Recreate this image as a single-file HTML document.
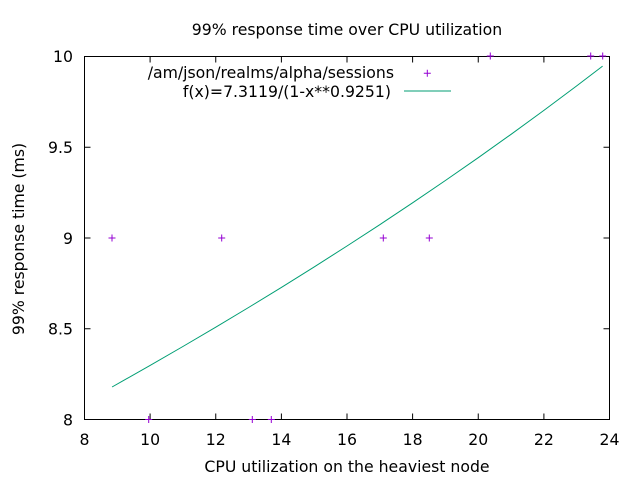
<!DOCTYPE html>
<html><head><meta charset="utf-8"><style>
html,body{margin:0;padding:0;background:#fff;}
svg{display:block;}
text{font-family:"DejaVu Sans","Liberation Sans",sans-serif;font-size:15.7px;fill:#000;}
</style></head><body>
<svg width="640" height="480" viewBox="0 0 640 480" xmlns="http://www.w3.org/2000/svg">
<rect width="640" height="480" fill="#fff"/>
<!-- ticks -->
<g stroke="#000" stroke-width="1">
<path d="M150.1,419.5v-6M215.75,419.5v-6M281.4,419.5v-6M347,419.5v-6M412.6,419.5v-6M478.25,419.5v-6M543.9,419.5v-6"/>
<path d="M150.1,56.5v6M215.75,56.5v6M281.4,56.5v6M347,56.5v6M412.6,56.5v6M478.25,56.5v6M543.9,56.5v6"/>
<path d="M84.5,147.25h6M84.5,238h6M84.5,328.75h6"/>
<path d="M609.5,147.25h-6M609.5,238h-6M609.5,328.75h-6"/>
</g>
<rect x="84.5" y="56.5" width="525" height="363" fill="none" stroke="#000" stroke-width="1"/>
<!-- tick labels -->
<g text-anchor="middle">
<text x="84.5" y="445">8</text>
<text x="150.1" y="445">10</text>
<text x="215.75" y="445">12</text>
<text x="281.4" y="445">14</text>
<text x="347" y="445">16</text>
<text x="412.6" y="445">18</text>
<text x="478.25" y="445">20</text>
<text x="543.9" y="445">22</text>
<text x="609.5" y="445">24</text>
</g>
<g text-anchor="end">
<text x="73" y="425.5">8</text>
<text x="73" y="334.5">8.5</text>
<text x="73" y="244">9</text>
<text x="73" y="153">9.5</text>
<text x="73" y="62">10</text>
</g>
<text x="347" y="35" text-anchor="middle">99% response time over CPU utilization</text>
<text x="347" y="472" text-anchor="middle">CPU utilization on the heaviest node</text>
<text transform="translate(24,239) rotate(-90)" text-anchor="middle">99% response time (ms)</text>
<!-- legend -->
<text x="394" y="78" text-anchor="end">/am/json/realms/alpha/sessions</text>
<text x="391" y="97" text-anchor="end">f(x)=7.3119/(1-x**0.9251)</text>
<path d="M404,91H451" stroke="#009e73" stroke-width="1"/>
<!-- curve -->
<polyline fill="none" stroke="#009e73" stroke-width="1" points="112.06,387.0 150.1,365.4 182.9,346.5 215.75,327.15 248.56,307.5 281.4,287.4 314.2,266.9 347.0,246.0 379.8,224.7 412.6,202.8 445.4,180.5 478.25,157.7 511.1,134.3 543.9,110.4 576.7,85.9 602.6,66.1"/>
<!-- points -->
<g stroke="#9400d3" stroke-width="1" fill="none">
<path d="M427.3,69.8v7M423.8,73.3h7"/>
<path d="M490.3,52.5v7M486.8,56h7"/>
<path d="M590.7,52.5v7M587.2,56h7"/>
<path d="M602.7,52.5v7M599.2,56h7"/>
<path d="M148.7,416v7M145.2,419.5h7"/>
<path d="M252.3,416v7M248.8,419.5h7"/>
<path d="M271.3,416v7M267.8,419.5h7"/>
<path d="M112,234.5v7M108.5,238h7"/>
<path d="M221.7,234.5v7M218.2,238h7"/>
<path d="M383.3,234.5v7M379.8,238h7"/>
<path d="M429.3,234.5v7M425.8,238h7"/>
</g>
</svg>
</body></html>
